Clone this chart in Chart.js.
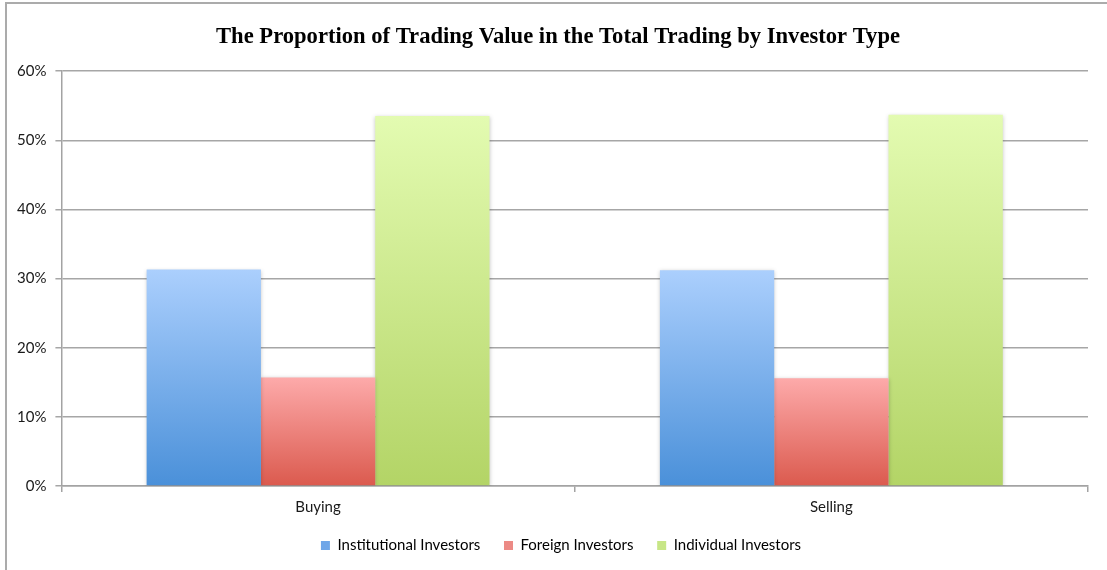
<!DOCTYPE html>
<html>
<head>
<meta charset="utf-8">
<script src="https://cdn.jsdelivr.net/npm/chart.js@4/dist/chart.umd.min.js"></script>
<style>
  html, body { margin: 0; padding: 0; background: #ffffff; }
  #wrap { position: absolute; left: 0; top: 0; width: 1107px; height: 570px; }
</style>
</head>
<body>
<div id="wrap"><canvas id="c" width="1107" height="570"></canvas></div>
<script>
const titleText = 'The Proportion of Trading Value in the Total Trading by Investor Type';
const categories = ['Buying', 'Selling'];
const seriesNames = ['Institutional Investors', 'Foreign Investors', 'Individual Investors'];
const institutional = [31.3, 31.2];
const foreign = [15.7, 15.6];
const individual = [53.5, 53.7];
const yTicks = [0, 10, 20, 30, 40, 50, 60];

const gradStops = [
  ['#abcffd', '#4a90d9'],
  ['#fdaaaa', '#db5a4e'],
  ['#e3fbb1', '#b3d466']
];
const legendColors = ['#6fa6e8', '#ec8a85', '#c7e686'];

function barGradient(idx) {
  return function (ctx) {
    const chart = ctx.chart;
    const area = chart.chartArea;
    if (!area || ctx.type !== 'data') return gradStops[idx][1];
    const y = chart.scales.y;
    const top = y.getPixelForValue(ctx.raw);
    const bottom = y.getPixelForValue(0);
    const g = chart.ctx.createLinearGradient(0, top, 0, bottom);
    g.addColorStop(0, gradStops[idx][0]);
    g.addColorStop(1, gradStops[idx][1]);
    return g;
  };
}

const framePlugin = {
  id: 'frame',
  afterDraw(chart) {
    const c = chart.ctx;
    c.save();
    c.strokeStyle = '#ababab';
    c.lineWidth = 2;
    c.beginPath();
    c.moveTo(6, 570);
    c.lineTo(6, 3);
    c.lineTo(1107, 3);
    c.stroke();
    c.restore();
  }
};

const shadowPlugin = {
  id: 'barShadow',
  beforeDatasetsDraw(chart) {
    const c = chart.ctx;
    c.save();
    c.shadowColor = 'rgba(0,0,0,0.22)';
    c.shadowBlur = 4;
    c.shadowOffsetX = 0;
    c.shadowOffsetY = 1;
  },
  afterDatasetsDraw(chart) {
    chart.ctx.restore();
  }
};

const datasets = [institutional, foreign, individual].map((vals, i) => ({
  label: seriesNames[i],
  data: vals,
  backgroundColor: barGradient(i),
  borderWidth: 0,
  barPercentage: 1.0,
  categoryPercentage: 0.668
}));

const uiFont = 'Lato, "Open Sans", sans-serif';

const chart = new Chart(document.getElementById('c'), {
  type: 'bar',
  data: { labels: categories, datasets },
  plugins: [framePlugin, shadowPlugin],
  options: {
    responsive: false,
    animation: false,
    devicePixelRatio: 1,
    layout: { padding: { left: 8, right: 19, top: 20, bottom: 7 } },
    plugins: {
      title: {
        display: true,
        text: titleText,
        color: '#000000',
        font: { family: '"Liberation Serif", "Times New Roman", serif', size: 22.6, weight: 'bold' },
        padding: { top: 4, bottom: 20 }
      },
      legend: {
        position: 'bottom',
        labels: {
          color: '#1a1a1a',
          font: { family: uiFont, size: 15 },
          boxWidth: 9,
          boxHeight: 9,
          padding: 16,
          generateLabels(chart) {
            return seriesNames.map((n, i) => ({
              text: i < seriesNames.length - 1 ? n + '  ' : n,
              fillStyle: legendColors[i],
              strokeStyle: legendColors[i],
              lineWidth: 0,
              hidden: false,
              datasetIndex: i
            }));
          }
        }
      },
      tooltip: { enabled: false }
    },
    scales: {
      x: {
        grid: {
          offset: true,
          drawOnChartArea: false,
          color: '#a3a3a3',
          lineWidth: 1.5,
          tickLength: 6
        },
        border: { color: '#a3a3a3', width: 1.5 },
        ticks: {
          color: '#1a1a1a',
          font: { family: uiFont, size: 15 },
          padding: 6
        }
      },
      y: {
        min: 0,
        max: 60,
        afterBuildTicks(scale) { scale.ticks = yTicks.map(v => ({ value: v })); },
        grid: {
          color: '#a6a6a6',
          lineWidth: 1.5,
          tickLength: 6
        },
        border: { color: '#a3a3a3', width: 1.5 },
        ticks: {
          color: '#1a1a1a',
          font: { family: uiFont, size: 15 },
          padding: 9,
          callback: v => v + '%'
        }
      }
    }
  }
});

// Shift the centred title and legend slightly right, as in the original layout
function shiftBox(box, dx) {
  if (!box) return;
  const orig = box.draw.bind(box);
  box.draw = function (area) {
    const c = chart.ctx;
    c.save();
    c.translate(dx, 0);
    orig(area);
    c.restore();
  };
}
shiftBox(chart.titleBlock, 10);
shiftBox(chart.legend, 13);
chart.draw();
</script>
</body>
</html>
